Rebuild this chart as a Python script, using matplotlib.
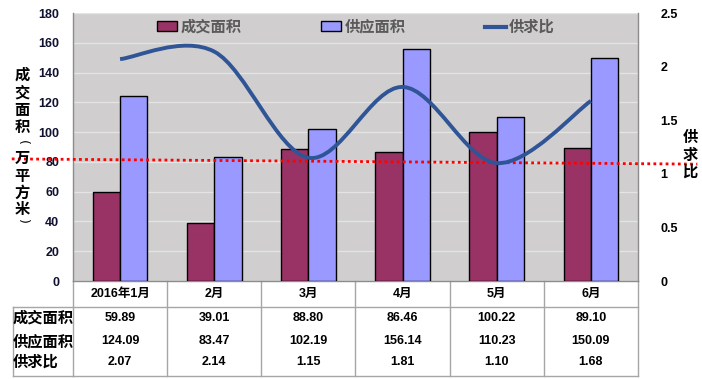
import matplotlib
matplotlib.use('Agg')
import matplotlib.pyplot as plt
from matplotlib.path import Path
from matplotlib.patches import PathPatch, Patch
from matplotlib.lines import Line2D
import matplotlib.transforms as mtransforms
import numpy as np

# ---------------- data ----------------
months = ['2016年1月', '2月', '3月', '4月', '5月', '6月']
deal_area = [59.89, 39.01, 88.80, 86.46, 100.22, 89.10]
supply_area = [124.09, 83.47, 102.19, 156.14, 110.23, 150.09]
ratio = [2.07, 2.14, 1.15, 1.81, 1.10, 1.68]
series_names = ['成交面积', '供应面积', '供求比']
deal_labels = ['59.89', '39.01', '88.80', '86.46', '100.22', '89.10']
supply_labels = ['124.09', '83.47', '102.19', '156.14', '110.23', '150.09']
ratio_labels = ['2.07', '2.14', '1.15', '1.81', '1.10', '1.68']
trend_ends = [82.0, 78.5]          # red dotted reference line (left-axis units)
left_ticks = [0, 20, 40, 60, 80, 100, 120, 140, 160, 180]
right_ticks = [0, 0.5, 1, 1.5, 2, 2.5]
right_tick_labels = ['0', '0.5', '1', '1.5', '2', '2.5']
left_ylabel = ['成', '交', '面', '积', '(', '万', '平', '方', '米', ')']
right_ylabel = ['供', '求', '比']

# ---------------- style ----------------
W, H = 702, 379
CJK = ['Noto Sans CJK SC', 'DejaVu Sans']
NUM = ['Liberation Sans', 'Noto Sans CJK SC']
plt.rcParams['font.family'] = CJK

fig = plt.figure(figsize=(W / 100, H / 100), dpi=100)
fig.patch.set_facecolor('white')
ax = fig.add_axes([73 / W, 98 / H, 565 / W, 268 / H])

x = np.arange(len(months))
w = 0.29
ax.bar(x - w / 2, deal_area, w, color='#993366', edgecolor='black', linewidth=1.0, zorder=3)
ax.bar(x + w / 2, supply_area, w, color='#9999FF', edgecolor='black', linewidth=1.0, zorder=3)
ax.set_xlim(-0.5, 5.5)
ax.set_ylim(0, 180)
ax.set_facecolor('#D0CECE')
ax.yaxis.grid(True, color='#E4E4E4', linewidth=1.0)
ax.set_axisbelow(True)
ax.set_xticks([])
ax.set_yticks(left_ticks)
ax.set_yticklabels([str(t) for t in left_ticks], family=NUM, fontweight='bold',
                   fontsize=9, color='#101030')
ax.tick_params(axis='y', length=0, pad=10)
ax.spines['top'].set_visible(False)
for s in ['left', 'right', 'bottom']:
    ax.spines[s].set_color('#8C8C8C')
    ax.spines[s].set_linewidth(1.0)

ax2 = ax.twinx()
ax2.set_ylim(0, 2.5)
ax2.set_yticks(right_ticks)
ax2.set_yticklabels(right_tick_labels, family=NUM, fontweight='bold', fontsize=9, color='black')
ax2.tick_params(axis='y', length=0, pad=16)
for s in ax2.spines.values():
    s.set_visible(False)

# smoothed ratio line (Excel-style Bezier smoothing)
pts = np.column_stack([x, ratio]).astype(float)
n = len(pts)
verts = [tuple(pts[0])]
codes = [Path.MOVETO]
for i in range(n - 1):
    p0 = pts[max(i - 1, 0)]
    p1 = pts[i]
    p2 = pts[i + 1]
    p3 = pts[min(i + 2, n - 1)]
    c1 = p1 + (p2 - p0) / 6.0
    c2 = p2 - (p3 - p1) / 6.0
    verts += [tuple(c1), tuple(c2), tuple(p2)]
    codes += [Path.CURVE4] * 3
ax2.add_patch(PathPatch(Path(verts, codes), facecolor='none', edgecolor='#2F5597',
                        linewidth=2.8, zorder=5, capstyle='butt'))

# red dotted reference line spanning across the chart
ax.plot([-1.15, 6.13], trend_ends, color='#FF0000', linestyle=(0, (1, 1.2)),
        linewidth=2.0, clip_on=False, zorder=6)

# legend
handles = [Patch(facecolor='#993366', edgecolor='black', linewidth=1.0),
           Patch(facecolor='#9999FF', edgecolor='black', linewidth=1.0),
           Line2D([0], [0], color='#2F5597', linewidth=3)]
leg = ax2.legend(handles, series_names, loc='upper center', bbox_to_anchor=(0.5, 1.03),
                 ncol=3, frameon=False, handlelength=1.35, handleheight=0.6,
                 handletextpad=0.2, columnspacing=5.2,
                 prop={'family': CJK, 'size': 11, 'weight': 'bold'})
for t in leg.get_texts():
    t.set_color('#5A5A5A')

# axis titles (vertical, stacked characters; parentheses turned for vertical text)
left_label_y = [75, 93, 110, 127, 142, 158, 176, 193, 209, 221]
for ch, py in zip(left_ylabel, left_label_y):
    if ch in '()':
        fig.text(22 / W, 1 - py / H, ch, ha='center', va='center', rotation=-90,
                 family=['DejaVu Sans'], fontsize=9, color='black')
    else:
        fig.text(22 / W, 1 - py / H, ch, ha='center', va='center',
                 fontsize=11, fontweight='bold', color='black')
for i, ch in enumerate(right_ylabel):
    fig.text(690 / W, 1 - (137 + i * 17.5) / H, ch, ha='center', va='center',
             fontsize=11, fontweight='bold', color='black')

# ---------------- data table ----------------
tr = mtransforms.blended_transform_factory(ax.transData, fig.transFigure)
def fy(py):
    return 1 - py / H

lc = '#A6A6A6'
bounds = np.arange(len(months) + 1) - 0.5
for b in bounds:
    ax.plot([b, b], [fy(281), fy(376)], transform=tr, color=lc, linewidth=1.0, clip_on=False)
ax.plot([-0.5, 5.5], [fy(306.5), fy(306.5)], transform=tr, color=lc, linewidth=1.0, clip_on=False)
ax.plot([-0.5, 5.5], [fy(376), fy(376)], transform=tr, color=lc, linewidth=1.0, clip_on=False)
fig.add_artist(Line2D([13 / W, 73 / W], [fy(306.5), fy(306.5)], color=lc, linewidth=1.0))
fig.add_artist(Line2D([13 / W, 73 / W], [fy(376), fy(376)], color=lc, linewidth=1.0))
fig.add_artist(Line2D([13 / W, 13 / W], [fy(306.5), fy(376)], color=lc, linewidth=1.0))

for i, m in enumerate(months):
    ax.text(i, fy(294), m, transform=tr, ha='center', va='center', family=NUM,
            fontsize=9, fontweight='bold', color='black')
rows = [(series_names[0], deal_labels, 318), (series_names[1], supply_labels, 341),
        (series_names[2], ratio_labels, 362)]
for name, labels, py in rows:
    fig.text(13 / W, fy(py), name, ha='left', va='center', fontsize=11,
             fontweight='bold', color='black')
    for i, lab in enumerate(labels):
        ax.text(i, fy(py), lab, transform=tr, ha='center', va='center', family=NUM,
                fontsize=9, fontweight='bold', color='black')

fig.savefig('out.png', dpi=100)
